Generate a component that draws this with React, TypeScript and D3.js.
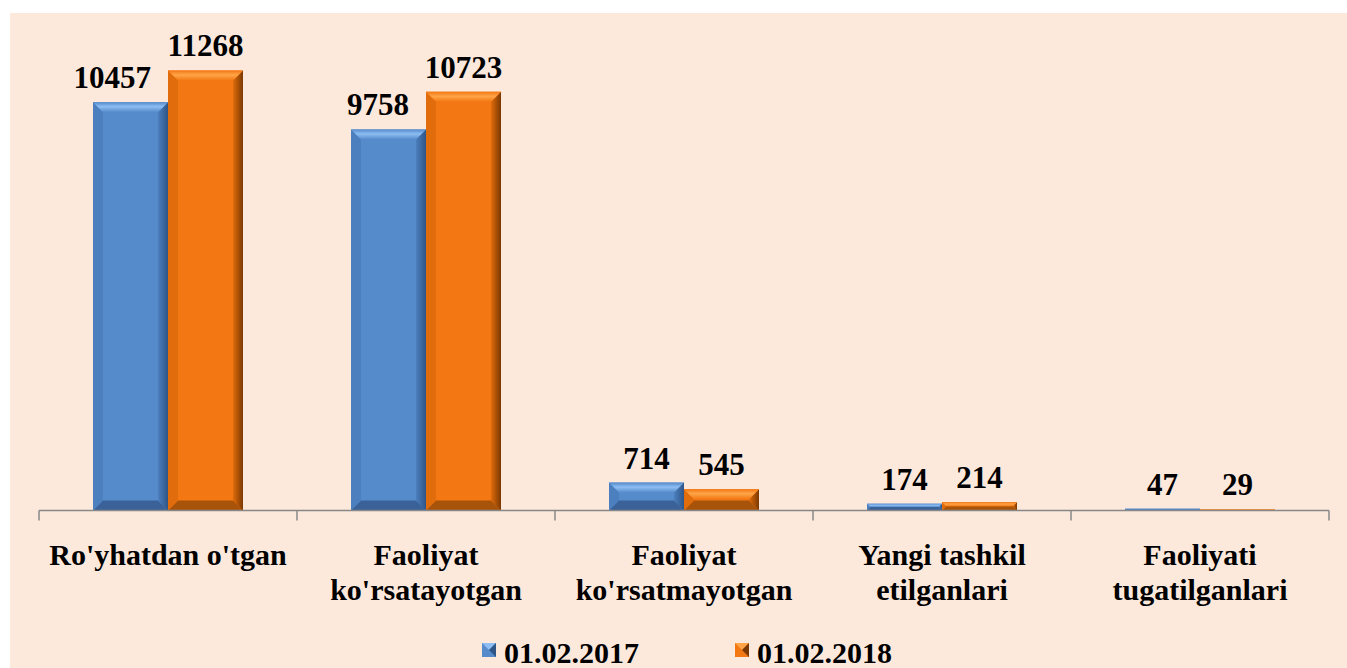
import React from "react";
import * as d3 from "d3";

const categories = [
  "Ro'yhatdan o'tgan",
  "Faoliyat\nko'rsatayotgan",
  "Faoliyat\nko'rsatmayotgan",
  "Yangi tashkil\netilganlari",
  "Faoliyati\ntugatilganlari",
];
const series2017 = [10457, 9758, 714, 174, 47];
const series2018 = [11268, 10723, 545, 214, 29];
const seriesNames = ["01.02.2017", "01.02.2018"];

const W = 1347;
const H = 668;
const FONT = "'Liberation Serif', 'Times New Roman', serif";

const palettes = [
  { face: "#558BCB", light: "#8DBDF2", left: "#4C7FBE", right: "#2F5586", bottom: "#3A6298" },
  { face: "#F37712", light: "#FFA548", left: "#E06C0C", right: "#7A3800", bottom: "#A8530A" },
];

function BevelBar({ x0, x1, y0, y1, p, id }: any) {
  const h = y1 - y0;
  const w = x1 - x0;
  if (h <= 0) return null;
  const b = Math.min(10, h / 2, w / 2);
  const pts = (a: number[][]) => a.map((q) => q.join(",")).join(" ");
  return (
    <g>
      <rect x={x0} y={y0} width={w} height={h} fill={p.face} />
      <polygon points={pts([[x0, y1], [x1, y1], [x1 - b, y1 - b], [x0 + b, y1 - b]])} fill={p.bottom} />
      <polygon points={pts([[x0, y0], [x0 + b, y0 + b], [x0 + b, y1 - b], [x0, y1]])} fill={p.left} />
      <polygon points={pts([[x1, y0], [x1, y1], [x1 - b, y1 - b], [x1 - b, y0 + b]])} fill={`url(#r${id})`} />
      <polygon points={pts([[x0, y0], [x1, y0], [x1 - b, y0 + b], [x0 + b, y0 + b]])} fill={`url(#t${id})`} />
    </g>
  );
}

export default function App() {
  const left = 39;
  const right = 1329;
  const baseY = 510.5;
  const x = d3.scaleBand<number>().domain(d3.range(categories.length)).range([left, right]).paddingInner(0).paddingOuter(0);
  const y = d3.scaleLinear().domain([0, 12000]).range([baseY, baseY - 468.6]);
  const barW = 75;
  const series = [series2017, series2018];
  const labelGap = 14;

  return (
    <svg width={W} height={H} style={{ position: "absolute", left: 0, top: 0, fontFamily: FONT }}>
      <defs>
        {palettes.map((p, i) => (
          <React.Fragment key={i}>
            <linearGradient id={`t${i}`} x1="0" y1="0" x2="0" y2="1">
              <stop offset="0" stopColor={p.face} />
              <stop offset="0.45" stopColor={p.light} />
              <stop offset="1" stopColor={p.face} />
            </linearGradient>
            <linearGradient id={`r${i}`} x1="1" y1="0" x2="0" y2="0">
              <stop offset="0" stopColor={p.right} />
              <stop offset="1" stopColor={p.left} />
            </linearGradient>
          </React.Fragment>
        ))}
      </defs>
      <rect x={0} y={0} width={W} height={H} fill="#ffffff" />
      <rect x={10} y={13} width={W - 10} height={H - 13} fill="#FCE9DC" />

      {categories.map((c, i) => {
        const cx = x(i)! + x.bandwidth() / 2;
        return (
          <g key={i}>
            {series.map((s, k) => {
              const x0 = cx - barW + k * barW;
              const y0 = y(s[i]);
              const ly = y0 - labelGap;
              // label of first series collides with the taller neighbour bar -> shift left
              const collides = k === 0 && y(series[1][i]) < ly;
              return (
                <g key={k}>
                  <BevelBar x0={x0} x1={x0 + barW} y0={y0} y1={baseY} p={palettes[k]} id={k} />
                  <text
                    x={collides ? x0 + barW - 17 : x0 + barW / 2}
                    y={ly}
                    textAnchor={collides ? "end" : "middle"}
                    fontSize={31}
                    fontWeight="bold"
                    fill="#000"
                  >
                    {s[i]}
                  </text>
                </g>
              );
            })}
            {c.split("\n").map((line, j) => (
              <text key={j} x={cx} y={565 + j * 35} textAnchor="middle" fontSize={30} fontWeight="bold" fill="#000">
                {line}
              </text>
            ))}
          </g>
        );
      })}

      <line x1={left} x2={right} y1={baseY} y2={baseY} stroke="#888" strokeWidth={1.5} />
      {d3.range(categories.length + 1).map((i) => {
        const tx = left + i * x.bandwidth();
        return <line key={i} x1={tx} x2={tx} y1={baseY} y2={baseY + 10} stroke="#888" strokeWidth={1.5} />;
      })}

      {seriesNames.map((n, k) => {
        const lx = k === 0 ? 482 : 735;
        const p = palettes[k];
        return (
          <g key={k}>
            <rect x={lx} y={643} width={14} height={14} fill={p.face} />
            <polygon points={`${lx},${643} ${lx + 14},${643} ${lx + 7},${650}`} fill={p.light} />
            <polygon points={`${lx + 14},${643} ${lx + 14},${657} ${lx + 7},${650}`} fill={p.right} />
            <text x={lx + 22} y={663} fontSize={30} fontWeight="bold" fill="#000">
              {n}
            </text>
          </g>
        );
      })}
    </svg>
  );
}
